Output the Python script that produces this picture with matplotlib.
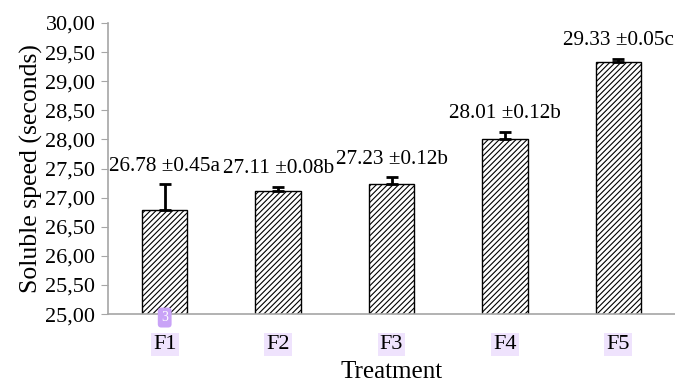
import numpy as np
import matplotlib.pyplot as plt
from matplotlib.ticker import FuncFormatter

plt.rcParams['font.family'] = ['Liberation Serif', 'DejaVu Serif']
plt.rcParams['hatch.linewidth'] = 0.8

# data
treatments = ["F1", "F2", "F3", "F4", "F5"]
means = [26.78, 27.11, 27.23, 28.01, 29.33]
sds = [0.45, 0.08, 0.12, 0.12, 0.05]
letters = ["a", "b", "b", "b", "c"]

fig = plt.figure(figsize=(6.75, 3.83), dpi=100)
ax = fig.add_axes([0.16, 0.18, 0.84, 0.76])

x = np.arange(len(treatments))
ax.bar(x, means, width=0.4, color="white", edgecolor="black",
       hatch="//////", linewidth=1.0, zorder=2)
ax.errorbar(x, means, yerr=[np.zeros(len(sds)), sds], fmt="none",
            ecolor="black", elinewidth=2, capsize=4, capthick=2, zorder=3)

for xi, m, s, l in zip(x, means, sds, letters):
    ax.text(xi, m + s + 0.15, f"{m:.2f} ±{s:.2f}{l}", ha="center",
            va="bottom", fontsize=15.3)

ax.set_ylim(25, 30)
ax.set_xlim(-0.5, 4.5)
ax.set_yticks(np.arange(25, 30.01, 0.5))
ax.yaxis.set_major_formatter(FuncFormatter(lambda v, p: f"{v:.2f}".replace(".", ",")))
ax.set_xticks(x)
ax.set_xticklabels(treatments)

for sp in ["top", "right"]:
    ax.spines[sp].set_visible(False)
for sp in ["left", "bottom"]:
    ax.spines[sp].set_color("#a6a6a6")
    ax.spines[sp].set_linewidth(1.2)

ax.tick_params(axis="y", labelsize=16, color="#a6a6a6", length=5, pad=4)
ax.tick_params(axis="x", labelsize=16, length=0, pad=15)
for lbl in ax.get_xticklabels():
    lbl.set_bbox(dict(boxstyle="square,pad=0.1", facecolor="#efe3fd", edgecolor="none"))

ax.set_ylabel("Soluble speed (seconds)", fontsize=18.5, labelpad=2)
ax.set_xlabel("Treatment", fontsize=18, labelpad=5)

# small marker badge seen under F1
ax.text(0, -0.012, "3", transform=ax.get_xaxis_transform(), ha="center", va="center",
        fontsize=10, color="white",
        bbox=dict(boxstyle="round,pad=0.25", facecolor="#c9a3f7", edgecolor="none"))

fig.savefig("out.png", dpi=100)
